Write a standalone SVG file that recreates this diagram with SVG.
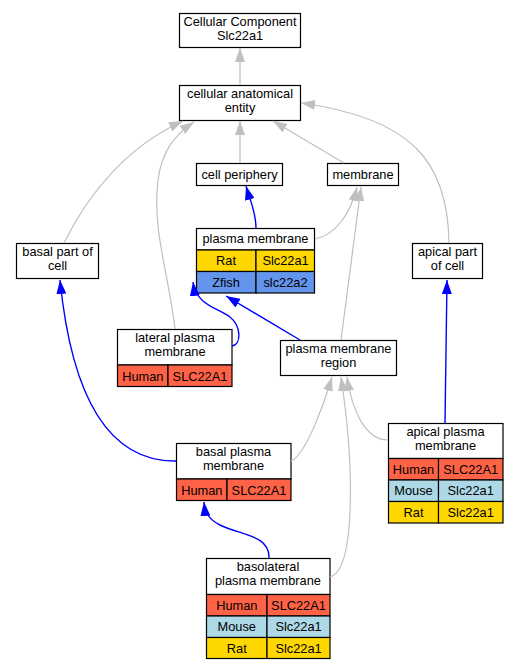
<svg xmlns="http://www.w3.org/2000/svg" width="519" height="669" viewBox="0 0 519 669">
<defs>
<style>
text{font-family:"Liberation Sans",Arial,sans-serif;font-size:12.8px;fill:#000;text-anchor:middle}
rect{stroke:#000;stroke-width:1.2}
rect.bg{fill:#fff;stroke:none}
.n{fill:#fff}
.hu{fill:#FF6347}
.mo{fill:#ADD8E6}
.ra{fill:#FFD700}
.zf{fill:#6495ED}
.g{fill:none;stroke:#C0C0C0;stroke-width:1.2;marker-end:url(#ag)}
.b{fill:none;stroke:#0000FF;stroke-width:1.4;marker-end:url(#ab)}
</style>
<marker id="ag" markerUnits="userSpaceOnUse" markerWidth="14" markerHeight="10" refX="14" refY="5" orient="auto"><path d="M0,0 L14,5 L0,10 z" fill="#C0C0C0"/></marker>
<marker id="ab" markerUnits="userSpaceOnUse" markerWidth="14" markerHeight="10" refX="14" refY="5" orient="auto"><path d="M0,0 L14,5 L0,10 z" fill="#0000FF"/></marker>
</defs>
<rect class="bg" x="0" y="0" width="519" height="669"/>

<g id="cc"><rect class="n" x="179.5" y="13.5" width="121" height="34"/><text x="240" y="26.2">Cellular Component</text><text x="240" y="39.7">Slc22a1</text></g>
<g id="cae"><rect class="n" x="179.5" y="85.5" width="121" height="35"/><text x="240" y="98.2">cellular anatomical</text><text x="240" y="111.7">entity</text></g>
<g id="cp"><rect class="n" x="196.5" y="163.5" width="86" height="22"/><text x="239.5" y="178.5">cell periphery</text></g>
<g id="mem"><rect class="n" x="327.5" y="163.5" width="71" height="22"/><text x="363" y="178.5">membrane</text></g>
<g id="bpc"><rect class="n" x="16.5" y="243.5" width="82" height="35"/><text x="57.5" y="256.2">basal part of</text><text x="57.5" y="269.7">cell</text></g>
<g id="apc"><rect class="n" x="412.5" y="243.5" width="70" height="35"/><text x="447.5" y="256.2">apical part</text><text x="447.5" y="269.7">of cell</text></g>
<g id="pm"><rect class="n" x="196.5" y="228.5" width="118" height="21.5"/><text x="255.5" y="243">plasma membrane</text>
<rect class="ra" x="196.5" y="250" width="59.5" height="21.5"/><rect class="ra" x="256" y="250" width="58.5" height="21.5"/>
<rect class="zf" x="196.5" y="271.5" width="59.5" height="21.5"/><rect class="zf" x="256" y="271.5" width="58.5" height="21.5"/>
<text x="226" y="265">Rat</text><text x="285.5" y="265">Slc22a1</text><text x="226" y="286.5">Zfish</text><text x="285.5" y="286.5">slc22a2</text></g>
<g id="lpm"><rect class="n" x="117.5" y="329.5" width="114.5" height="35.5"/><text x="175" y="342.2">lateral plasma</text><text x="175" y="355.7">membrane</text>
<rect class="hu" x="117.5" y="365" width="50.5" height="21.5"/><rect class="hu" x="168" y="365" width="64" height="21.5"/>
<text x="142.8" y="380.5">Human</text><text x="200" y="380.5">SLC22A1</text></g>
<g id="pmr"><rect class="n" x="280.5" y="340.5" width="116" height="35"/><text x="338.5" y="353.2">plasma membrane</text><text x="338.5" y="366.7">region</text></g>
<g id="bpm"><rect class="n" x="176.5" y="443.5" width="114.5" height="35.5"/><text x="233.5" y="456.2">basal plasma</text><text x="233.5" y="469.7">membrane</text>
<rect class="hu" x="176.5" y="479" width="50.5" height="21.5"/><rect class="hu" x="227" y="479" width="64" height="21.5"/>
<text x="201.8" y="494.5">Human</text><text x="259" y="494.5">SLC22A1</text></g>
<g id="apm"><rect class="n" x="388.5" y="423.5" width="114.5" height="35"/><text x="445.5" y="436.2">apical plasma</text><text x="445.5" y="449.7">membrane</text>
<rect class="hu" x="388.5" y="458.5" width="50" height="21.5"/><rect class="hu" x="438.5" y="458.5" width="64.5" height="21.5"/>
<rect class="mo" x="388.5" y="480" width="50" height="21.5"/><rect class="mo" x="438.5" y="480" width="64.5" height="21.5"/>
<rect class="ra" x="388.5" y="501.5" width="50" height="21.5"/><rect class="ra" x="438.5" y="501.5" width="64.5" height="21.5"/>
<text x="413.5" y="473.5">Human</text><text x="470.7" y="473.5">SLC22A1</text>
<text x="413.5" y="495">Mouse</text><text x="470.7" y="495">Slc22a1</text>
<text x="413.5" y="516.5">Rat</text><text x="470.7" y="516.5">Slc22a1</text></g>
<g id="blpm"><rect class="n" x="206.5" y="558.5" width="123.5" height="36"/><text x="268" y="571.2">basolateral</text><text x="268" y="584.7">plasma membrane</text>
<rect class="hu" x="206.5" y="594.5" width="60.5" height="21.5"/><rect class="hu" x="267" y="594.5" width="63" height="21.5"/>
<rect class="mo" x="206.5" y="616" width="60.5" height="21.5"/><rect class="mo" x="267" y="616" width="63" height="21.5"/>
<rect class="ra" x="206.5" y="637.5" width="60.5" height="21"/><rect class="ra" x="267" y="637.5" width="63" height="21"/>
<text x="236.8" y="609.5">Human</text><text x="298.5" y="609.5">SLC22A1</text>
<text x="236.8" y="631">Mouse</text><text x="298.5" y="631">Slc22a1</text>
<text x="236.8" y="652.5">Rat</text><text x="298.5" y="652.5">Slc22a1</text></g>

<g id="edges">
<path class="g" d="M240,85 L240,48"/>
<path class="g" d="M240,163 L240,121"/>
<path class="g" d="M344,163 L273,121"/>
<path class="g" d="M449,243 C448,160 410,118 301,103"/>
<path class="g" d="M64,243 C90,190 130,145 183,121"/>
<path class="g" d="M175,329 C168,270 152,230 158,180 C162,150 175,135 194,122"/>
<path class="b" d="M256,228 C256,212 250,200 246,186"/>
<path class="g" d="M315,239 C335,235 350,215 357,187"/>
<path class="g" d="M341,340 L361,187"/>
<path class="b" d="M300,340 L226,296"/>
<path class="b" d="M232,346 C242,344 241,326 230,317 C218,308 196,305 193,282"/>
<path class="b" d="M176,461 C100,462 70,380 60,280"/>
<path class="g" d="M291,461 C305,455 322,410 332,377"/>
<path class="g" d="M388,440 C365,440 352,410 347,377"/>
<path class="g" d="M330,577 C355,570 355,470 341,377"/>
<path class="b" d="M269,558 C270,535 240,535 220,525 C208,519 205,512 204,502"/>
<path class="b" d="M445,423 L447,280"/>
</g>
</svg>
